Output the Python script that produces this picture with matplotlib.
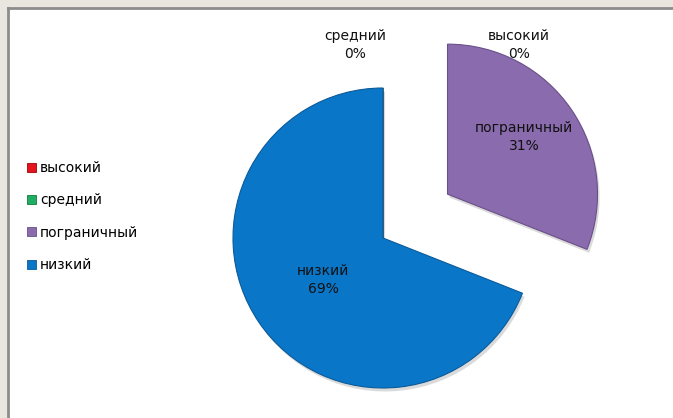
import matplotlib
matplotlib.use("Agg")
import matplotlib.pyplot as plt
from matplotlib.patches import Rectangle
import matplotlib.patheffects as pe

categories = ["высокий", "средний", "пограничный", "низкий"]
percents = [0, 0, 31, 69]
colors = ["#e3141c", "#1fae62", "#8a6bad", "#0a76c8"]
edge_colors = ["#a00000", "#107a40", "#6a4f8a", "#0a5a9a"]
explode = [0, 0, 0.52, 0]

W, H = 673, 418
fig = plt.figure(figsize=(W / 100, H / 100), dpi=100)
fig.patch.set_facecolor("#e9e5df")

# white chart area with grey left/top border
fig.patches.append(Rectangle((8 / W, 0), 1, 1 - 8 / H, transform=fig.transFigure,
                             facecolor="white", edgecolor="none", zorder=-5))
fig.add_artist(plt.Line2D([8 / W, 8 / W], [0, 1 - 8 / H], transform=fig.transFigure,
                          color="#8c8c8c", lw=2, zorder=-4))
fig.add_artist(plt.Line2D([8 / W, 1], [1 - 8 / H, 1 - 8 / H], transform=fig.transFigure,
                          color="#8c8c8c", lw=2, zorder=-4))

ax = fig.add_axes([0, 0, 1, 1])
ax.set_zorder(2)
ax.set_facecolor("none")
R = 150.0
cx, cy = 383.0, 238.0
wedges, _ = ax.pie(percents, colors=colors, startangle=90, counterclock=False,
                   explode=explode, radius=1,
                   wedgeprops=dict(linewidth=0.8))
for w, ec in zip(wedges, edge_colors):
    w.set_edgecolor(ec)
    w.set_path_effects([pe.SimplePatchShadow(offset=(1.5, -2.5), alpha=0.18, shadow_rgbFace="#333333"),
                        pe.Normal()])
ax.set_aspect("auto")
ax.set_xlim(-cx / R, (W - cx) / R)
ax.set_ylim(-(H - cy) / R, cy / R)
ax.axis("off")

label_pos = {
    "высокий": (519, 45),
    "средний": (355, 45),
    "пограничный": (524, 137),
    "низкий": (323, 280),
}
for cat, p in zip(categories, percents):
    px, py = label_pos[cat]
    ax.text((px - cx) / R, (cy - py) / R, f"{cat}\n{p}%", ha="center", va="center",
            fontsize=10, color="#111111", linespacing=1.3, family="DejaVu Sans")

leg = fig.legend(wedges, categories, loc="center left",
                 bbox_to_anchor=(27 / W, 1 - 216.5 / H), frameon=False,
                 handlelength=0.62, handleheight=0.62, handletextpad=0.3,
                 labelspacing=1.32, borderpad=0, borderaxespad=0,
                 prop=dict(family="DejaVu Sans", size=10))
leg.set_zorder(3)
for h in leg.legend_handles:
    h.set_path_effects([])
    h.set_linewidth(0.6)

fig.savefig("out.png", dpi=100, facecolor=fig.get_facecolor())
